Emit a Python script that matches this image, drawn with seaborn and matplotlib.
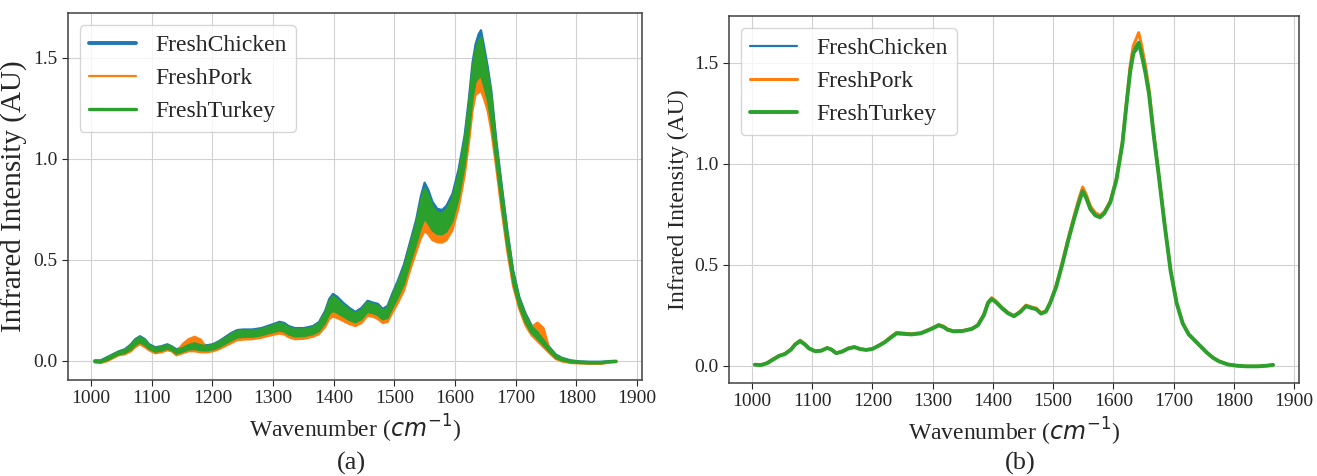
import numpy as np
import pandas as pd
import seaborn as sns
import matplotlib
matplotlib.use("Agg")
import matplotlib.pyplot as plt
from matplotlib.lines import Line2D

# wavenumber grid (cm^-1)
wavenumber = [1005, 1015, 1025, 1035, 1045, 1055, 1065, 1072, 1080, 1088,
              1095, 1105, 1115, 1125, 1132, 1140, 1150, 1160, 1170, 1180,
              1190, 1200, 1210, 1220, 1230, 1240, 1250, 1265, 1280, 1290,
              1300, 1310, 1318, 1325, 1335, 1350, 1365, 1375, 1385, 1392,
              1398, 1405, 1415, 1425, 1435, 1445, 1455, 1465, 1472, 1480,
              1488, 1495, 1505, 1515, 1525, 1535, 1543, 1549, 1555, 1562,
              1570, 1578, 1585, 1595, 1605, 1615, 1622, 1628, 1633, 1638,
              1642, 1647, 1653, 1659, 1667, 1675, 1685, 1695, 1705, 1715,
              1725, 1735, 1745, 1755, 1765, 1775, 1790, 1805, 1820, 1840,
              1855, 1865]

classes = ["FreshChicken", "FreshPork", "FreshTurkey"]
colors = {"FreshChicken": "#1f77b4", "FreshPork": "#ff7f0e", "FreshTurkey": "#2ca02c"}

# (a) spread of all spectra per class: lower / upper envelope
chicken_lo = [-.001, -.002, .009, .024, .039, .046, .066, .088, .103, .088,
              .069, .054, .059, .069, .061, .044, .054, .066, .070, .063,
              .061, .066, .078, .095, .113, .128, .131, .132, .139, .148,
              .156, .164, .159, .145, .135, .136, .146, .162, .206, .255,
              .272, .262, .241, .221, .207, .224, .259, .252, .244, .222,
              .231, .278, .340, .409, .513, .612, .705, .754, .729, .686,
              .664, .661, .677, .731, .846, 1.010, 1.179, 1.348, 1.433, 1.461,
              1.475, 1.417, 1.339, 1.230, 1.023, .829, .600, .406, .287, .207,
              .153, .123, .088, .054, .022, .008, -.002, -.006, -.008, -.008,
              -.002, -.001]
chicken_hi = [.005, .005, .020, .035, .050, .060, .085, .110, .125, .110,
              .085, .070, .075, .085, .075, .060, .070, .085, .095, .085,
              .080, .085, .100, .120, .140, .155, .158, .158, .165, .175,
              .185, .196, .190, .175, .165, .165, .175, .195, .250, .310,
              .334, .320, .290, .265, .245, .265, .300, .290, .285, .260,
              .275, .330, .400, .480, .590, .700, .820, .885, .850, .790,
              .755, .750, .770, .830, .950, 1.120, 1.300, 1.480, 1.570, 1.620,
              1.640, 1.560, 1.460, 1.340, 1.100, .900, .660, .450, .320, .240,
              .180, .150, .110, .070, .035, .018, .005, .000, -.002, -.002,
              .002, .003]
pork_lo = [-.005, -.008, .000, .015, .030, .035, .050, .070, .085, .070,
           .055, .040, .045, .055, .050, .030, .040, .050, .050, .045,
           .045, .050, .060, .075, .090, .105, .108, .110, .117, .125,
           .132, .138, .133, .120, .110, .112, .122, .135, .170, .210,
           .222, .215, .200, .185, .175, .190, .226, .220, .210, .190,
           .195, .235, .290, .350, .450, .540, .610, .646, .630, .600,
           .590, .588, .600, .650, .760, .920, 1.080, 1.240, 1.320, 1.330,
           1.340, 1.300, 1.240, 1.140, .960, .770, .550, .370, .260, .180,
           .130, .100, .070, .040, .012, .000, -.008, -.010, -.012, -.012,
           -.006, -.004]
pork_hi = [.000, -.002, .010, .025, .040, .048, .068, .090, .105, .090,
           .070, .055, .060, .070, .063, .045, .085, .110, .122, .108,
           .065, .068, .080, .098, .115, .130, .133, .134, .141, .150,
           .159, .167, .162, .148, .138, .139, .149, .165, .210, .260,
           .278, .268, .245, .225, .210, .228, .263, .255, .248, .225,
           .235, .283, .345, .415, .520, .620, .715, .766, .740, .695,
           .673, .669, .685, .740, .855, 1.020, 1.190, 1.360, 1.445, 1.475,
           1.490, 1.430, 1.350, 1.240, 1.030, .835, .605, .410, .290, .210,
           .170, .192, .165, .060, .024, .009, -.002, -.005, -.007, -.007,
           -.002, .000]
turkey_lo = [-.003, -.005, .005, .020, .035, .041, .059, .080, .095, .080,
             .063, .048, .053, .063, .056, .038, .048, .059, .061, .055,
             .054, .059, .070, .086, .103, .118, .121, .122, .129, .138,
             .145, .153, .147, .134, .124, .125, .135, .150, .190, .235,
             .250, .241, .223, .205, .193, .209, .245, .238, .229, .208,
             .215, .259, .318, .383, .485, .580, .663, .706, .685, .648,
             .631, .629, .643, .695, .808, .970, 1.135, 1.300, 1.383, 1.403,
             1.415, 1.365, 1.295, 1.190, .995, .803, .578, .390, .275, .195,
             .143, .113, .080, .048, .018, .005, -.005, -.008, -.010, -.010,
             -.004, -.002]
turkey_hi = [.004, .003, .018, .033, .048, .057, .081, .105, .120, .105,
             .081, .066, .071, .081, .072, .056, .066, .081, .090, .080,
             .076, .081, .095, .115, .134, .149, .152, .152, .159, .169,
             .179, .189, .183, .168, .158, .159, .169, .188, .240, .298,
             .321, .307, .279, .255, .237, .256, .291, .282, .276, .252,
             .265, .319, .387, .464, .573, .681, .795, .856, .824, .767,
             .735, .731, .750, .808, .927, 1.096, 1.274, 1.451, 1.540, 1.585,
             1.604, 1.529, 1.434, 1.316, 1.083, .884, .647, .440, .313, .233,
             .174, .144, .105, .066, .032, .016, .003, -.001, -.003, -.003,
             .001, .002]

# (b) mean spectrum per class
chicken_mean = [.005, .003, .012, .031, .049, .059, .081, .106, .123, .106,
                .086, .072, .074, .088, .080, .062, .071, .086, .093, .083,
                .078, .083, .099, .116, .140, .162, .160, .156, .161, .173,
                .186, .202, .194, .179, .171, .173, .183, .201, .252, .313,
                .333, .317, .287, .262, .246, .267, .297, .287, .282, .260,
                .270, .312, .394, .505, .626, .738, .820, .875, .838, .782,
                .750, .739, .758, .813, .923, 1.103, 1.300, 1.470, 1.555, 1.560,
                1.590, 1.545, 1.460, 1.355, 1.143, .951, .701, .470, .310, .210,
                .155, .125, .095, .065, .040, .022, .006, .000, -.003, -.003,
                .000, .004]
pork_mean = [.006, .004, .014, .033, .050, .060, .082, .108, .126, .108,
             .087, .073, .075, .088, .080, .062, .072, .087, .094, .084,
             .079, .084, .100, .118, .142, .165, .162, .158, .163, .175,
             .188, .204, .196, .181, .172, .174, .184, .203, .255, .317,
             .337, .320, .290, .264, .248, .269, .300, .290, .285, .262,
             .272, .315, .398, .510, .632, .745, .830, .885, .848, .790,
             .758, .745, .763, .818, .928, 1.110, 1.315, 1.490, 1.585, 1.620,
             1.650, 1.585, 1.490, 1.375, 1.150, .955, .703, .472, .312, .212,
             .157, .127, .096, .066, .041, .023, .007, .000, -.003, -.003,
             .000, .004]
turkey_mean = [.005, .003, .012, .030, .048, .058, .080, .105, .122, .105,
               .085, .072, .074, .088, .080, .062, .070, .085, .092, .082,
               .078, .083, .098, .115, .138, .160, .158, .155, .160, .172,
               .185, .200, .192, .178, .170, .172, .182, .200, .250, .310,
               .330, .315, .285, .260, .245, .265, .295, .285, .280, .258,
               .268, .310, .390, .500, .620, .730, .810, .865, .830, .775,
               .745, .735, .755, .810, .920, 1.100, 1.300, 1.460, 1.545, 1.580,
               1.600, 1.540, 1.455, 1.350, 1.140, .950, .700, .470, .310, .210,
               .155, .125, .095, .065, .040, .022, .006, .000, -.003, -.003,
               .000, .004]

bands = {"FreshChicken": (chicken_lo, chicken_hi),
         "FreshPork": (pork_lo, pork_hi),
         "FreshTurkey": (turkey_lo, turkey_hi)}
means = {"FreshChicken": chicken_mean, "FreshPork": pork_mean, "FreshTurkey": turkey_mean}

mean_df = pd.concat([pd.DataFrame({"wavenumber": wavenumber, "intensity": means[c], "class": c})
                     for c in classes], ignore_index=True)

sns.set_style("whitegrid", {"axes.edgecolor": ".25", "grid.color": ".82",
                            "xtick.bottom": True, "ytick.left": True})
plt.rcParams["font.family"] = ["Liberation Serif", "DejaVu Sans"]
plt.rcParams["xtick.major.size"] = 4
plt.rcParams["ytick.major.size"] = 4
plt.rcParams["xtick.color"] = ".15"
plt.rcParams["ytick.color"] = ".15"

fig = plt.figure(figsize=(13.17, 4.76), dpi=100)
ax1 = fig.add_axes([0.0516, 0.2017, 0.4358, 0.771])
ax2 = fig.add_axes([0.5535, 0.1954, 0.4328, 0.771])

# (a) all spectra as envelopes
for c in classes:
    lo, hi = bands[c]
    ax1.fill_between(wavenumber, lo, hi, color=colors[c], edgecolor=colors[c], linewidth=1.6)
handles = [Line2D([], [], color=colors["FreshChicken"], lw=2.8),
           Line2D([], [], color=colors["FreshPork"], lw=1.6),
           Line2D([], [], color=colors["FreshTurkey"], lw=2.4)]
ax1.legend(handles, classes, loc="upper left", fontsize=17)
ax1.margins(x=0.05, y=0.05)

# (b) class means
sns.lineplot(data=mean_df, x="wavenumber", y="intensity", hue="class", size="class",
             palette=colors, sizes={"FreshChicken": 1.6, "FreshPork": 2.2, "FreshTurkey": 2.8},
             ax=ax2)
ax2.legend(loc="upper left", fontsize=17, title=None)

for ax, ylab_size in ((ax1, 21), (ax2, 17)):
    ax.set_xticks(range(1000, 2000, 100))
    ax.set_yticks([0.0, 0.5, 1.0, 1.5])
    ax.tick_params(labelsize=14)
    ax.set_xlabel("Wavenumber ($cm^{-1}$)", fontsize=17)
    ax.set_ylabel("Infrared Intensity (AU)", fontsize=ylab_size)
    for s in ax.spines.values():
        s.set_linewidth(1.1)

fig.text(0.267, 0.027, "(a)", ha="center", va="center", fontsize=19)
fig.text(0.775, 0.027, "(b)", ha="center", va="center", fontsize=19)

fig.savefig("out.png", dpi=100)
